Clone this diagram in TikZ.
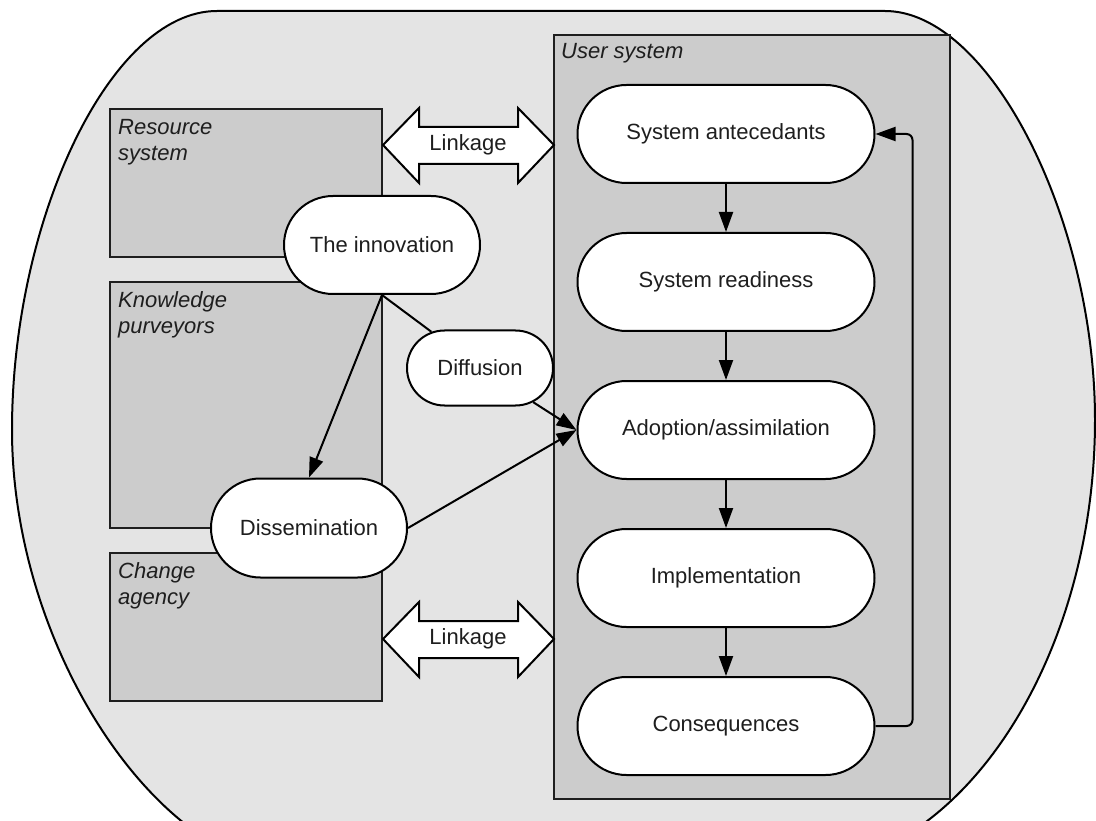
\documentclass[tikz,border=0pt]{standalone}
\usepackage{fontspec}
\setmainfont{Liberation Sans}
\usetikzlibrary{shapes.misc,arrows.meta}
\definecolor{outergray}{RGB}{228,228,228}
\definecolor{boxgray}{RGB}{204,204,204}
\definecolor{edgecol}{RGB}{30,30,30}
\tikzset{
  txt/.style={font=\fontsize{22}{26}\selectfont, text=edgecol},
  stadium/.style={rounded rectangle, draw=black, line width=2pt, fill=white, inner sep=0pt, txt},
  grpbox/.style={rectangle, draw=edgecol, line width=2pt, fill=boxgray, inner sep=0pt},
  lbl/.style={anchor=north west, inner sep=0pt, align=left, font=\fontsize{22}{26}\selectfont\itshape, text=edgecol},
  conn/.style={line width=2pt, draw=black},
  arr/.style={conn, -{Triangle[length=20pt,width=14pt]}},
  linkshape/.style={draw=black, line width=2pt, fill=white, line join=miter},
}
\begin{document}
\begin{tikzpicture}[x=1pt,y=-1pt]
\useasboundingbox (0,0) rectangle (1096,821);
% outer shape
\begin{scope}
\clip (0,0) rectangle (1096,821);
\draw[line width=2pt, fill=outergray]
  (217,11) -- (885,11)
  .. controls (990,11) and (1095,220) .. (1095,420)
  .. controls (1095,660) and (960,870) .. (790,870)
  -- (300,870)
  .. controls (160,870) and (12,650) .. (12,430)
  .. controls (12,220) and (110,11) .. (217,11) -- cycle;
\end{scope}
% group boxes
\node[grpbox, minimum width=272pt, minimum height=148pt] (res) at (246,183) {};
\node[grpbox, minimum width=272pt, minimum height=246pt] (know) at (246,405) {};
\node[grpbox, minimum width=272pt, minimum height=148pt] (chg) at (246,627) {};
\node[grpbox, minimum width=396pt, minimum height=764pt] (user) at (752,417) {};
\node[lbl] (reslbl) at (118,119) {Resource\\system};
\node[lbl] (knowlbl) at (118,291) {Knowledge\\purveyors};
\node[lbl] (chglbl) at (118,562) {Change\\agency};
\node[lbl] (userlbl) at (561,43) {User system};
% linkage arrows
\path[linkshape] (383,145) -- (419,108) -- (419,127) -- (518,127) -- (518,108) -- (554,145)
  -- (518,183) -- (518,164) -- (419,164) -- (419,183) -- cycle;
\node[txt, inner sep=0pt] (link1) at (468,145) {Linkage};
\path[linkshape] (383,639) -- (419,602) -- (419,621) -- (518,621) -- (518,602) -- (554,639)
  -- (518,677) -- (518,658) -- (419,658) -- (419,677) -- cycle;
\node[txt, inner sep=0pt] (link2) at (468,639) {Linkage};
% stadium nodes
\node[stadium, minimum width=196pt, minimum height=98pt] (innov) at (382,245) {The innovation};
\node[stadium, minimum width=146pt, minimum height=75pt] (diff) at (480,368) {Diffusion};
\node[stadium, minimum width=196pt, minimum height=99pt] (diss) at (309,528) {Dissemination};
\node[stadium, minimum width=297pt, minimum height=98pt] (ante) at (726,134) {System antecedants};
\node[stadium, minimum width=297pt, minimum height=98pt] (ready) at (726,282) {System readiness};
\node[stadium, minimum width=297pt, minimum height=98pt] (adopt) at (726,430) {Adoption/assimilation};
\node[stadium, minimum width=297pt, minimum height=98pt] (impl) at (726,578) {Implementation};
\node[stadium, minimum width=297pt, minimum height=98pt] (cons) at (726,726) {Consequences};
% connectors
\draw[conn] (innov.south) -- (diff);
\draw[arr] (diff) -- (adopt.west);
\draw[arr] (innov.south) -- (diss.north);
\draw[arr] (diss.east) -- (adopt.west);
\draw[arr] (ante) -- (ready);
\draw[arr] (ready) -- (adopt);
\draw[arr] (adopt) -- (impl);
\draw[arr] (impl) -- (cons);
\draw[arr, rounded corners=6pt] (cons.east) -- ++(37,0) |- (ante.east);
\end{tikzpicture}
\end{document}
